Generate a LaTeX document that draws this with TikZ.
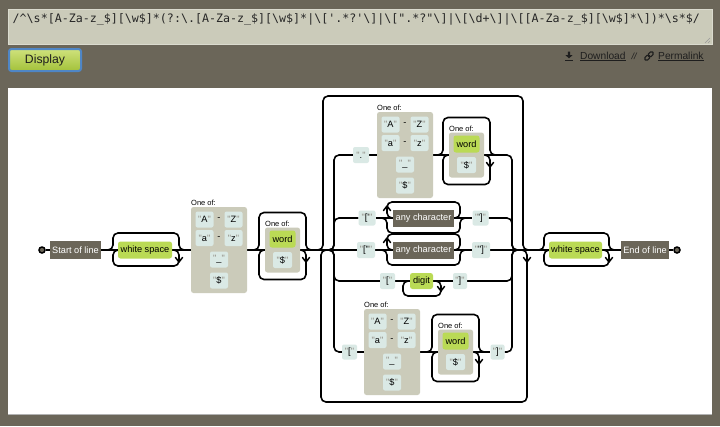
\documentclass[tikz,border=0pt]{standalone}
\usepackage{fontspec}
\newfontfamily\dfont{Liberation Sans}
\newfontfamily\mfont{DejaVu Sans Mono}
\definecolor{pagebg}{HTML}{6B6659}
\definecolor{tabg}{HTML}{CBCBBA}
\definecolor{litc}{HTML}{DAE9E5}
\definecolor{setc}{HTML}{CBCBBA}
\definecolor{escc}{HTML}{BADA55}
\definecolor{ancc}{HTML}{6B6659}
\definecolor{qc}{HTML}{908C83}
\definecolor{btnblue}{HTML}{4F86C6}
\definecolor{btntop}{HTML}{CFE27C}
\definecolor{btnbot}{HTML}{A3C13A}
\definecolor{linkc}{HTML}{1E1E1E}
\pgfdeclarelayer{back}
\pgfdeclarelayer{lines}
\pgfsetlayers{back,lines,main}
\newcommand\bs{\char92\relax}
\newcommand\us{\char95\relax}
\newcommand\qq[1]{\textcolor{qc}{"}#1\textcolor{qc}{"}}
\newcommand\regextext{/\char94\relax\bs s*[A-Za-z\us\$][\bs w\$]*(?:\bs .[A-Za-z\us\$][\bs w\$]*|\bs ['.*?'\bs ]|\bs [".*?"\bs ]|\bs [\bs d+\bs ]|\bs [[A-Za-z\us\$][\bs w\$]*\bs ])*\bs s*\$/}
\tikzset{
  ln/.style={line width=1.6pt, black, rounded corners=5pt},
  tip/.style={line width=1.5pt, black, line cap=round, line join=round},
  bx/.style={inner sep=0pt, font=\dfont\fontsize{9.2}{10}\selectfont},
  lit/.style={bx, fill=litc, rounded corners=2pt, minimum width=18pt, minimum height=16pt},
  esc/.style={bx, fill=escc, rounded corners=2.5pt},
  anc/.style={bx, fill=ancc, text=white},
  cset/.style={fill=setc, rounded corners=2.5pt, inner sep=0pt},
  lbl/.style={inner sep=0pt, anchor=south west, font=\dfont\fontsize{7.5}{8}\selectfont},
  endpt/.style={circle, fill=ancc, draw=black, line width=1.5pt, minimum size=6pt, inner sep=0pt},
}
\newcommand\adn[2]{\draw[tip] ({#1-3.5},{#2-4.5}) -- ({#1},{#2}) -- ({#1+3.5},{#2-4.5});}
\newcommand\aup[2]{\draw[tip] ({#1-3.5},{#2+4.5}) -- ({#1},{#2}) -- ({#1+3.5},{#2+4.5});}
% charset box: prefix, left x, centre y
\newcommand\charset[3]{%
  \node[cset, minimum width=56pt, minimum height=86pt] (#1) at ({#2+28},{#3}) {};
  \node[lbl] (#1lb) at ({#2},{#3-44}) {One of:};
  \node[lit] (#1A) at ({#2+13.5},{#3-30.5}) {\qq{A}};
  \node[bx] (#1m1) at ({#2+28},{#3-30.5}) {-};
  \node[lit] (#1Z) at ({#2+42.5},{#3-30.5}) {\qq{Z}};
  \node[lit] (#1a) at ({#2+13.5},{#3-12}) {\qq{a}};
  \node[bx] (#1m2) at ({#2+28},{#3-12}) {-};
  \node[lit] (#1z) at ({#2+42.5},{#3-12}) {\qq{z}};
  \node[lit] (#1u) at ({#2+28},{#3+9.5}) {\qq{\_}};
  \node[lit] (#1d) at ({#2+28},{#3+30.5}) {\qq{\$}};
}
% word-or-dollar set: prefix, left x, centre y
\newcommand\wordgrp[3]{%
  \node[cset, minimum width=35pt, minimum height=45pt] (#1) at ({#2+17.5},{#3}) {};
  \node[lbl] (#1lb) at ({#2},{#3-23.5}) {One of:};
  \node[esc, minimum width=26pt, minimum height=17pt] (#1w) at ({#2+17.5},{#3-11}) {word};
  \node[lit, minimum width=19pt] (#1s) at ({#2+17.5},{#3+10}) {\qq{\$}};
}
\newcommand\wgloops[2]{%
  \draw[ln] ({#1-14},{#2}) -| ({#1-6},{#2-37.5}) -| ({#1+41},{#2}) -- ({#1+49},{#2});
  \draw[ln] ({#1+35},{#2}) -| ({#1+41},{#2+29.5}) -| ({#1-6},{#2}) -- ({#1},{#2});
  \adn{#1+41}{#2+12}
}
% lazy star around a box: left, right, y
\newcommand\lazyloops[3]{%
  \draw[ln] ({#2},{#3}) -| ({#2+6},{#3-16}) -| ({#1-6},{#3}) -- ({#1},{#3});
  \draw[ln] ({#1-12},{#3}) -| ({#1-6},{#3+15}) -| ({#2+6},{#3}) -- ({#2+12},{#3});
  \aup{#1-6}{#3-12}
}
\begin{document}
\begin{tikzpicture}[x=1pt,y=-1pt]
\useasboundingbox (0,0) rectangle (720,426);
\begin{pgfonlayer}{back}
  \fill[pagebg] (0,0) rectangle (720,426);
  \fill[white] (8,88) rectangle (712,414);
  \draw[black!30, line width=0.8pt] (8,414.4) -- (712,414.4);
\end{pgfonlayer}

% ---------- header ----------
\node[draw=tabg!70!white, line width=0.6pt, fill=tabg, minimum width=704pt, minimum height=35pt, inner sep=0pt, anchor=north west] (ta) at (8,9) {};
\node[anchor=base west, inner sep=0pt, font=\mfont\fontsize{11.65}{13}\selectfont, text=black!85] (rx) at (12.5,22.5) {\regextext};
\draw[black!40, line width=0.5pt] (705,43) -- (710,38) (708,43) -- (710,41);
\node[draw=btnblue, line width=2pt, rounded corners=2.5pt, top color=btntop, bottom color=btnbot, minimum width=72pt, minimum height=22pt, inner sep=0pt, font=\dfont\fontsize{12.2}{13}\selectfont, text=linkc] (disp) at (45,60) {Display};
\fill[linkc] (567.8,51.5) -- (570.2,51.5) -- (570.2,55) -- (572.6,55) -- (569,58.4) -- (565.4,55) -- (567.8,55) -- cycle;
\fill[linkc] (565,59.6) rectangle (573,61);
\node[anchor=base west, inner sep=0pt, font=\dfont\fontsize{10.2}{12}\selectfont, text=linkc] (dl) at (580,59) {\underline{Download}};
\node[inner sep=0pt, font=\dfont\fontsize{9}{10}\selectfont\itshape, text=linkc] (sl) at (634,56.5) {//};
\draw[linkc, line width=1.1pt, rounded corners=1.6pt, rotate around={45:(649,56)}] (643.6,54.2) rectangle (649.6,57.8) (648.4,54.2) rectangle (654.4,57.8);
\node[anchor=base west, inner sep=0pt, font=\dfont\fontsize{10.2}{12}\selectfont, text=linkc] (pl) at (658,59) {\underline{Permalink}};

% ---------- diagram nodes ----------
\node[endpt] (sc) at (42,250) {};
\node[anc, minimum width=51pt, minimum height=18pt] (sol) at (75.5,250) {Start of line};
\node[esc, minimum width=54pt, minimum height=17pt] (ws1) at (145,250) {white space};
\charset{cs1}{191}{250}
\wordgrp{w1}{265}{250}

% branch 1
\node[lit, minimum width=16pt] (b1d) at (361,155) {\qq{.}};
\charset{cs2}{377}{155}
\wordgrp{w2}{449}{155}
% branch 2
\node[lit, minimum width=17pt, minimum height=15pt] (b2o) at (367,218) {\qq{['}};
\node[anc, minimum width=61pt, minimum height=17pt] (b2a) at (423.5,218) {any character};
\node[lit, minimum width=16pt, minimum height=15pt] (b2c) at (480.5,218) {\qq{']}};
% branch 3
\node[lit] (b3o) at (366,250) {\qq{["}};
\node[anc, minimum width=61pt, minimum height=17pt] (b3a) at (423.5,250) {any character};
\node[lit] (b3c) at (481,250) {\qq{"]}};
% branch 4
\node[lit, minimum width=15pt] (b4o) at (387.5,281) {\qq{[}};
\node[esc, minimum width=23pt, minimum height=16pt] (b4g) at (421.5,281) {digit};
\node[lit, minimum width=14pt] (b4c) at (460,281) {\qq{]}};
% branch 5
\node[lit, minimum width=15pt, minimum height=15pt] (b5o) at (349.5,352) {\qq{[}};
\charset{cs5}{364}{352}
\wordgrp{w5}{438}{352}
\node[lit, minimum width=14pt, minimum height=15pt] (b5c) at (497.5,352) {\qq{]}};

\node[esc, minimum width=53pt, minimum height=17pt] (ws2) at (575.5,250) {white space};
\node[anc, minimum width=48pt, minimum height=18pt] (eol) at (645,250) {End of line};
\node[endpt] (ec) at (677,250) {};

% ---------- connectors ----------
\begin{pgfonlayer}{lines}
  \draw[ln] (sc) -- (sol);
  \draw[ln] (sol.east) -- (ws1.west);
  \draw[ln] (sol.east) -| (113,233) -| (179,250) -- (cs1.west);
  \draw[ln] (ws1.east) -| (179,266) -| (113,250) -- (ws1.west);
  \adn{179}{262}
  \draw[ln] (ws1.east) -- (cs1.west);
  \draw[ln] (cs1.east) -- (w1.west);
  \wgloops{265}{250}
  \draw[ln] (w1.east) -- (b3o.west);

  % outer repetition
  \draw[ln] (310,250) -| (323,96) -| (523,250) -- (533,250);
  \draw[ln] (512,250) -| (527,402) -| (321,250) -- (334,250);
  \adn{527}{262}

  % branch 1
  \draw[ln] (323,250) -| (334,155) -- (b1d.west);
  \draw[ln] (b1d.east) -- (cs2.west);
  \draw[ln] (cs2.east) -- (w2.west);
  \wgloops{449}{155}
  \draw[ln] (w2.east) -| (512,250) -- (520,250);
  % branch 2
  \draw[ln] (323,250) -| (334,218) -- (b2o.west);
  \draw[ln] (b2o.east) -- (b2a.west);
  \lazyloops{393}{454}{218}
  \draw[ln] (b2a.east) -- (b2c.west);
  \draw[ln] (b2c.east) -| (512,250) -- (520,250);
  % branch 3
  \draw[ln] (b3o.east) -- (b3a.west);
  \lazyloops{393}{454}{250}
  \draw[ln] (b3a.east) -- (b3c.west);
  \draw[ln] (b3c.east) -- (ws2.west);
  % branch 4
  \draw[ln] (323,250) -| (334,281) -- (b4o.west);
  \draw[ln] (b4o.east) -- (b4g.west);
  \draw[ln] (b4g.east) -| (441,296) -| (403,281) -- (b4g.west);
  \adn{441}{291}
  \draw[ln] (b4g.east) -- (b4c.west);
  \draw[ln] (b4c.east) -| (512,250) -- (520,250);
  % branch 5
  \draw[ln] (323,250) -| (334,352) -- (b5o.west);
  \draw[ln] (b5o.east) -- (cs5.west);
  \draw[ln] (cs5.east) -- (w5.west);
  \wgloops{438}{352}
  \draw[ln] (w5.east) -- (b5c.west);
  \draw[ln] (b5c.east) -| (512,250) -- (520,250);

  % trailing white space
  \draw[ln] (533,250) -| (544,233) -| (609,250) -- (eol.west);
  \draw[ln] (ws2.east) -| (609,266) -| (544,250) -- (ws2.west);
  \adn{609}{262}
  \draw[ln] (ws2.east) -- (eol.west);
  \draw[ln] (eol) -- (ec);
\end{pgfonlayer}
\end{tikzpicture}
\end{document}
